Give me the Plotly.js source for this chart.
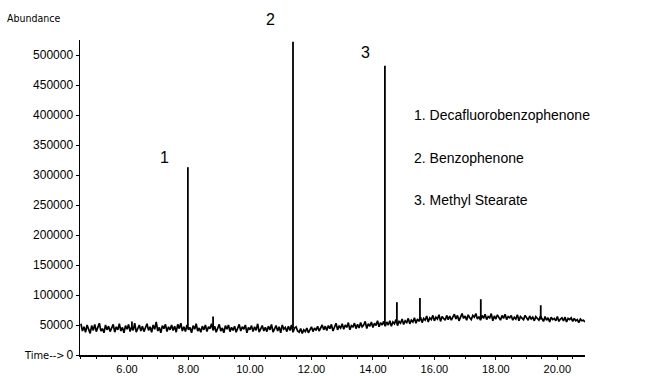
<!DOCTYPE html>
<html><head><meta charset="utf-8">
<script src="https://cdn.plot.ly/plotly-3.0.1.min.js"></script>
<style>html,body{margin:0;padding:0;background:#fff}#chart{width:645px;height:376px}</style>
</head><body><div id="chart"></div>
<script>
// Sampling grid of the total ion chromatogram (minutes)
const baseStart = 4.5;
const baseStep = 0.05;
// Baseline abundance, in thousands (one row = 1 min)
const baselineK = [
  52,40,47,38,50,43,36,49,41,51,39,46,53,40,44,37,50,42,48,39,
  45,51,38,47,42,52,40,46,37,49,43,51,39,47,41,53,38,45,50,40,
  48,39,46,52,41,47,38,50,43,55,40,46,37,49,44,51,39,47,42,50,
  41,48,38,51,44,53,40,47,39,50,42,46,37,49,43,52,40,45,38,48,
  42,50,39,47,44,52,41,48,38,46,51,40,45,37,49,43,50,39,46,41,
  48,38,45,51,40,47,43,50,37,46,42,49,39,47,41,52,38,45,49,40,
  46,39,48,42,51,38,45,49,40,47,37,50,43,46,39,48,41,50,38,45,
  47,40,38,44,36,42,39,45,37,43,47,39,45,41,48,40,46,50,42,48,
  41,49,44,51,40,47,53,42,48,45,52,43,50,46,54,42,49,47,53,44,
  51,45,54,47,50,56,44,52,48,55,46,53,49,57,47,54,50,56,48,55,
  50,57,48,55,52,59,49,56,53,60,51,57,54,61,52,58,55,62,53,60,
  56,63,54,61,58,65,55,62,59,66,57,63,60,67,56,64,61,58,66,59,
  65,58,63,68,60,66,57,64,69,61,65,58,67,62,59,66,63,69,60,64,
  58,66,61,68,59,64,62,69,57,65,60,67,63,58,66,61,68,59,64,62,
  66,58,63,60,67,57,64,61,59,66,62,58,65,60,63,57,64,61,58,65,
  60,56,64,58,62,55,63,59,61,57,64,56,60,62,57,63,55,61,59,62,
  56,61,57,59,54,60,57,58,55
];
// Peaks (retention time, apex abundance, abundance at foot)
const peakTimes = [7.98, 11.40, 14.39, 6.16, 8.80, 14.78, 15.53, 17.51, 19.46];
const peakTops  = [313000, 522000, 482000, 56000, 64000, 88000, 95000, 93000, 83000];
const peakFeet  = [45000, 44000, 50000, 45000, 45000, 54000, 59000, 62000, 59000];
const peakLabels = ["1", "2", "3"];
const compoundNames = ["1. Decafluorobenzophenone", "2. Benzophenone", "3. Methyl Stearate"];
const yLabel = "Abundance";
const xLabel = "Time-->";

const bx = baselineK.map((_, i) => baseStart + i * baseStep);
const by = baselineK.map(v => v * 1000);

const px = [], py = [];
peakTimes.forEach((t, i) => { px.push(t, t, null); py.push(peakFeet[i], peakTops[i], null); });

const narrow = "Liberation Sans Narrow, DejaVu Sans Condensed, Arial Narrow, sans-serif";
const arial = "Liberation Sans, Arial, Helvetica, sans-serif";

const labelShift = [[-23, 10], [-23, 22], [-19, 13]];
const annotations = peakLabels.map((lab, i) => ({
  x: peakTimes[i], y: peakTops[i], xref: 'x', yref: 'y', text: lab, showarrow: false,
  xshift: labelShift[i][0], yshift: labelShift[i][1],
  font: {family: arial, size: 16, color: '#000'}
}));
const legendY = [0.762, 0.625, 0.492];
compoundNames.forEach((n, i) => annotations.push({
  x: 0.657, y: legendY[i], xref: 'paper', yref: 'paper', xanchor: 'left', yanchor: 'middle',
  text: n, showarrow: false, font: {family: arial, size: 14, color: '#000'}
}));
annotations.push({x: -0.1485, y: 1.07, xref: 'paper', yref: 'paper', xanchor: 'left', yanchor: 'middle',
  text: yLabel, showarrow: false, font: {family: narrow, size: 10.5, color: '#000'}});
annotations.push({x: -0.0257, y: 0.0, xref: 'paper', yref: 'paper', xanchor: 'right', yanchor: 'middle',
  text: xLabel, showarrow: false, font: {family: narrow, size: 11, color: '#000'}});

const data = [
  {x: bx, y: by, type: 'scatter', mode: 'lines', line: {color: '#000', width: 1.7}, hoverinfo: 'skip'},
  {x: px, y: py, type: 'scatter', mode: 'lines', line: {color: '#000', width: 1.8}, connectgaps: false, hoverinfo: 'skip'}
];

const layout = {
  width: 645, height: 376,
  margin: {l: 80, r: 60, t: 40, b: 21},
  paper_bgcolor: '#fff', plot_bgcolor: '#fff',
  showlegend: false,
  xaxis: {range: [4.47, 20.9], dtick: 2, tick0: 0, tickformat: '.2f', showgrid: false, zeroline: false,
    showline: true, linecolor: '#000', linewidth: 1.5, ticks: 'outside', ticklen: 3, tickcolor: '#000',
    minor: {dtick: 0.5, ticks: 'outside', ticklen: 2, tickcolor: '#000'},
    tickfont: {family: arial, size: 11, color: '#000'}},
  yaxis: {range: [0, 525000], dtick: 50000, tick0: 0, tickformat: 'd', showgrid: false, zeroline: false,
    showline: true, linecolor: '#000', linewidth: 1.5, ticks: 'outside', ticklen: 3, tickcolor: '#000',
    tickfont: {family: arial, size: 12, color: '#000'}},
  annotations: annotations
};

Plotly.newPlot('chart', data, layout, {staticPlot: true, displayModeBar: false});
</script></body></html>
